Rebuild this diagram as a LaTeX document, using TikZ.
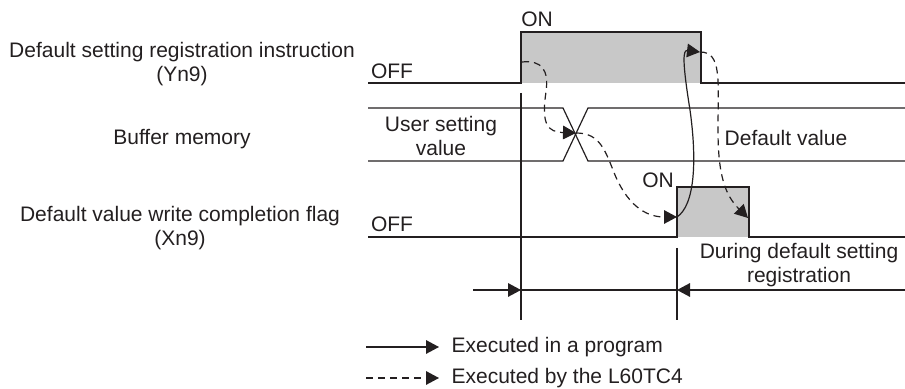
\documentclass[tikz,border=0pt]{standalone}
\usepackage{fontspec}
\setmainfont{Liberation Sans}
\usepackage{xcolor}
\usepackage{tikz}
\usetikzlibrary{arrows.meta}
\definecolor{noir}{RGB}{35,31,32}
\definecolor{grisp}{RGB}{200,200,200}

\begin{document}
\begin{tikzpicture}[x=0.5pt, y=-0.5pt, line width=0.6pt, draw=noir,
  t/.style={font=\fontsize{10.5}{12}\selectfont, text=noir, inner sep=0pt},
  pg/.style={-{Triangle[length=6.5pt, width=6.8pt]}},
  ex/.style={pg, dash pattern=on 3.5pt off 2.5pt}]
\useasboundingbox (0,0) rectangle (905,389);
\node[t, align=center] (yn) at (182,64) {Default setting registration instruction\\(Yn9)};
\node[t] (buf) at (182,139) {Buffer memory};
\node[t, align=center] (xn) at (180,228) {Default value write completion flag\\(Xn9)};
\fill[grisp] (521,32) rectangle (701,83);
\fill[grisp] (677,187) rectangle (749,237);
\draw (368,83) -- (521,83) -- (521,32) -- (701,32) -- (701,83) -- (905,83);
\draw (368,108) -- (563,108) -- (588,161) -- (905,161);
\draw (368,161) -- (563,161) -- (588,108) -- (905,108);
\draw (368,237) -- (677,237) -- (677,187) -- (749,187) -- (749,237) -- (905,237);
\node[t] (on1) at (537,19) {ON};
\node[t] (off1) at (392,71) {OFF};
\node[t] (on2) at (658,180) {ON};
\node[t] (off2) at (392,224) {OFF};
\node[t, align=center] (usr) at (441,136) {User setting\\value};
\node[t] (defv) at (786,138) {Default value};
\node[t, align=center] (dur) at (799,265) {During default setting\\registration};
\coordinate (y1) at (522,62);
\coordinate (cx) at (576,133);
\coordinate (x1) at (677,217);
\coordinate (y2) at (700,52);
\coordinate (x2) at (748,218);
\draw[ex] (y1) .. controls (542,60) and (549,70) .. (546,92)
  .. controls (541,125) and (548,132) .. (cx);
\draw[ex] (cx) .. controls (600,133) and (605,150) .. (615,175)
  .. controls (630,210) and (650,217) .. (x1);
\draw[pg] (x1) .. controls (695,205) and (697,160) .. (690,110)
  .. controls (682,60) and (683,50) .. (y2);
\draw[ex] (y2) .. controls (722,52) and (718,80) .. (718,130)
  .. controls (718,175) and (725,195) .. (x2);
\coordinate (v1) at (521,93);
\coordinate (v1b) at (521,320);
\coordinate (v2) at (677,248);
\coordinate (v2b) at (677,320);
\draw (v1) -- (v1b);
\draw (v2) -- (v2b);
\coordinate (d0) at (473,290);
\coordinate (d1) at (521,290);
\coordinate (d2) at (677,290);
\coordinate (d3) at (905,290);
\draw[pg] (d0) -- (d1);
\draw (d1) -- (d2);
\draw[pg] (d3) -- (d2);
\coordinate (lp) at (366,347);
\coordinate (le) at (366,378);
\node[t, anchor=west, inner xsep=6pt] (prog) at (439,347) {Executed in a program};
\node[t, anchor=west, inner xsep=6pt] (tc) at (439,378) {Executed by the L60TC4};
\draw[pg] (lp) -- (prog.west);
\draw[ex] (le) -- (tc.west);
\end{tikzpicture}
\end{document}
